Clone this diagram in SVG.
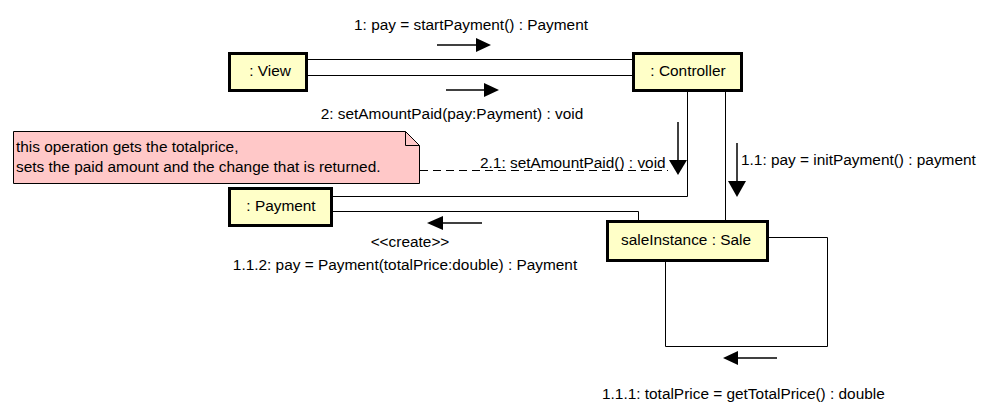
<svg xmlns="http://www.w3.org/2000/svg" width="997" height="416" viewBox="0 0 997 416">
<style>
.node{fill:#ffffc8;stroke:#000;stroke-width:3}
.t{font-family:"Liberation Sans",Arial,sans-serif;font-size:15.4px;fill:#000}
.c{text-anchor:middle}
.ln{fill:none;stroke:#000;stroke-width:1}
.ar{stroke:#000;stroke-width:1.5}
.hd{fill:#000}
</style>
<rect width="997" height="416" fill="#fff"/>
<g id="connectors">
<path class="ln" d="M308,59.5H632M308,75.5H632"/>
<path class="ln" d="M687.5,92V196.5H333"/>
<path class="ln" d="M333,211.5H638.5V220"/>
<path class="ln" d="M725.5,92V220"/>
<path class="ln" d="M769,237.5H827.5V346.5H665.5V262"/>
<path class="ln" d="M420,170.5H668" stroke-dasharray="8,5"/>
</g>
<g id="messages">
<line class="ar" x1="437" y1="45" x2="477" y2="45"/><polygon class="hd" points="476,38 491,45 476,52"/>
<text class="t c" x="471" y="30">1: pay = startPayment() : Payment</text>
<line class="ar" x1="446" y1="90" x2="485" y2="90"/><polygon class="hd" points="484,83 499,90 484,97"/>
<text class="t c" x="452" y="119">2: setAmountPaid(pay:Payment) : void</text>
<line class="ar" x1="678" y1="122" x2="678" y2="161"/><polygon class="hd" points="669,160 687,160 678,175"/>
<text class="t" x="480" y="168">2.1: setAmountPaid() : void</text>
<line class="ar" x1="737" y1="143" x2="737" y2="182"/><polygon class="hd" points="728,181 746,181 737,197"/>
<text class="t" x="741" y="165">1.1: pay = initPayment() : payment</text>
<line class="ar" x1="482" y1="223" x2="442" y2="223"/><polygon class="hd" points="443,216 427,223 443,230"/>
<text class="t c" x="410" y="247">&lt;&lt;create&gt;&gt;</text>
<text class="t c" x="405" y="270">1.1.2: pay = Payment(totalPrice:double) : Payment</text>
<line class="ar" x1="777" y1="358" x2="737" y2="358"/><polygon class="hd" points="738,351 723,358 738,365"/>
<text class="t" x="602" y="399">1.1.1: totalPrice = getTotalPrice() : double</text>
</g>
<g id="view"><rect class="node" x="229.5" y="53.5" width="77" height="37"/><text class="t c" x="270" y="76">: View</text></g>
<g id="controller"><rect class="node" x="633.5" y="53.5" width="108" height="37"/><text class="t c" x="688" y="76">: Controller</text></g>
<g id="payment"><rect class="node" x="229.5" y="188.5" width="102" height="37"/><text class="t c" x="281" y="211">: Payment</text></g>
<g id="sale"><rect class="node" x="607.5" y="221.5" width="160" height="39"/><text class="t c" x="686" y="245">saleInstance : Sale</text></g>
<g id="note">
<path d="M13.5,131.5H405.5L419.5,145.5V183.5H13.5Z" fill="#ffc8c8" stroke="#000" stroke-width="1"/>
<path d="M405.5,131.5V145.5H419.5" fill="none" stroke="#000" stroke-width="1"/>
<text class="t" x="16" y="152">this operation gets the totalprice,</text>
<text class="t" x="16" y="172">sets the paid amount and the change that is returned.</text>
</g>
</svg>
